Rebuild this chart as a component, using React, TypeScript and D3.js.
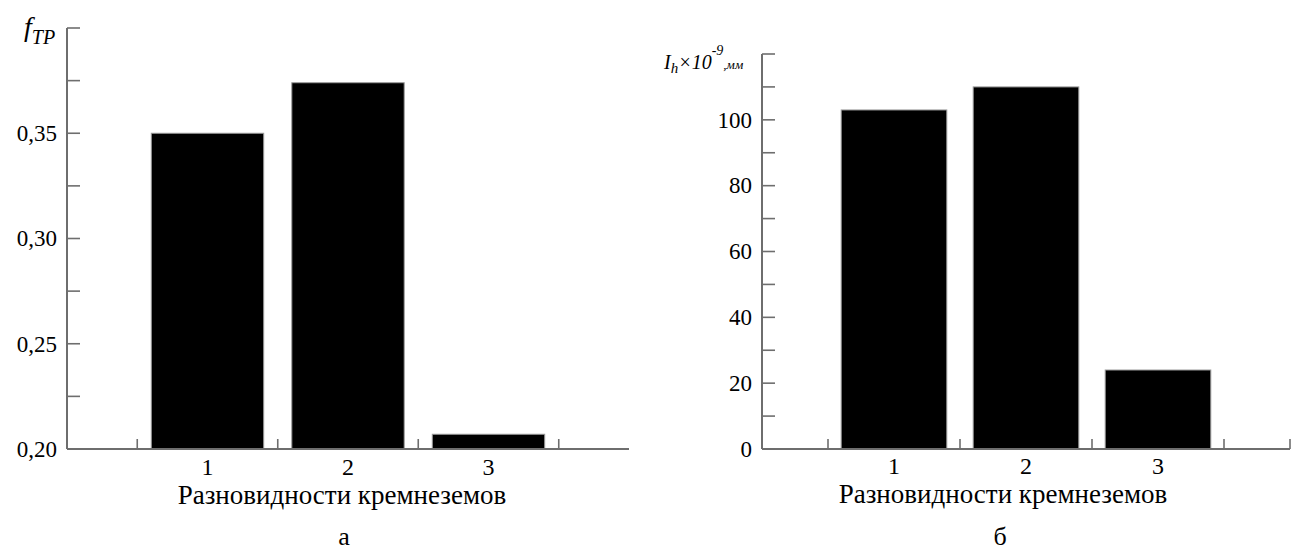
import * as d3 from "d3";

const categories = [1, 2, 3];
const frictionValues = [0.35, 0.374, 0.207];
const wearValues = [103, 110, 24];
const frictionTicks = [0.2, 0.225, 0.25, 0.275, 0.3, 0.325, 0.35, 0.375, 0.4];
const frictionLabels = ["0,20", "0,25", "0,30", "0,35"];
const wearTicks = [0, 10, 20, 30, 40, 50, 60, 70, 80, 90, 100, 110, 120];
const wearLabels = ["0", "20", "40", "60", "80", "100"];
const xTitle = "Разновидности кремнеземов";

const FONT =
  "'Liberation Serif', 'Times New Roman', Times, Tinos, 'DejaVu Serif', 'Noto Serif', serif";
const AXIS = "#6e6e6e";

interface PanelProps {
  x: d3.ScaleLinear<number, number>;
  y: d3.ScaleLinear<number, number>;
  values: number[];
  ticks: number[];
  labels: string[];
  labelValues: number[];
  endTick: boolean;
  numBase: number;
  titleX: number;
  titleBase: number;
  caption: string;
  captionX: number;
}

function Panel(p: PanelProps) {
  const [x0, x1] = p.x.range();
  const base = p.y.range()[0];
  const top = p.y.range()[1];
  const xTicks = [0.5, 1.5, 2.5, 3.5];
  if (p.endTick) xTicks.push(4);
  return (
    <g>
      {categories.map((c, i) => (
        <rect
          key={c}
          x={p.x(c - 0.4)}
          width={p.x(c + 0.4) - p.x(c - 0.4)}
          y={p.y(p.values[i])}
          height={base - p.y(p.values[i])}
          fill="#000"
          stroke="#9a9a9a"
          strokeWidth={1}
        />
      ))}
      <line x1={x0} x2={x0} y1={top} y2={base} stroke={AXIS} strokeWidth={2} />
      <line x1={x0} x2={x1} y1={base} y2={base} stroke={AXIS} strokeWidth={2} />
      {p.ticks.map((t) => (
        <line key={t} x1={x0} x2={x0 + 13} y1={p.y(t)} y2={p.y(t)} stroke={AXIS} strokeWidth={1.6} />
      ))}
      {xTicks.map((t) => (
        <line key={t} x1={p.x(t)} x2={p.x(t)} y1={base} y2={base - 10} stroke={AXIS} strokeWidth={1.6} />
      ))}
      {p.labels.map((l, i) => (
        <text
          key={l}
          x={x0 - 10}
          y={p.y(p.labelValues[i])}
          dy="0.34em"
          textAnchor="end"
          fontSize={23}
          fontFamily={FONT}
        >
          {l}
        </text>
      ))}
      {categories.map((c) => (
        <text key={c} x={p.x(c)} y={p.numBase} textAnchor="middle" fontSize={24} fontFamily={FONT}>
          {c}
        </text>
      ))}
      <text x={p.titleX} y={p.titleBase} textAnchor="middle" fontSize={27} fontFamily={FONT}>
        {xTitle}
      </text>
      <text x={p.captionX} y={545} textAnchor="middle" fontSize={26} fontFamily={FONT}>
        {p.caption}
      </text>
    </g>
  );
}

export default function App() {
  const xLeft = d3.scaleLinear().domain([0, 4]).range([67, 629]);
  const yLeft = d3.scaleLinear().domain([0.2, 0.4]).range([449, 28]);
  const xRight = d3.scaleLinear().domain([0, 4]).range([762, 1290]);
  const yRight = d3.scaleLinear().domain([0, 120]).range([449, 54]);

  return (
    <svg
      width={1293}
      height={551}
      style={{ position: "absolute", left: 0, top: 0, background: "#fff" }}
    >
      <Panel
        x={xLeft}
        y={yLeft}
        values={frictionValues}
        ticks={frictionTicks}
        labels={frictionLabels}
        labelValues={[0.2, 0.25, 0.3, 0.35]}
        endTick={false}
        numBase={475}
        titleX={342}
        titleBase={504}
        caption="а"
        captionX={344}
      />
      <Panel
        x={xRight}
        y={yRight}
        values={wearValues}
        ticks={wearTicks}
        labels={wearLabels}
        labelValues={[0, 20, 40, 60, 80, 100]}
        endTick={true}
        numBase={474}
        titleX={1003}
        titleBase={503}
        caption="б"
        captionX={1000}
      />
      <text x={24} y={36} fontFamily={FONT} fontStyle="italic" fontSize={28}>
        f
        <tspan fontSize={20} dy={8}>TP</tspan>
      </text>
      <text x={664} y={69} fontFamily={FONT} fontStyle="italic" fontSize={20}>
        I
        <tspan fontSize={15} dy={4}>h</tspan>
        <tspan fontSize={20} dy={-4}>×10</tspan>
        <tspan fontSize={14} dy={-14}>-9</tspan>
        <tspan fontSize={13} dy={14}>,мм</tspan>
      </text>
    </svg>
  );
}
